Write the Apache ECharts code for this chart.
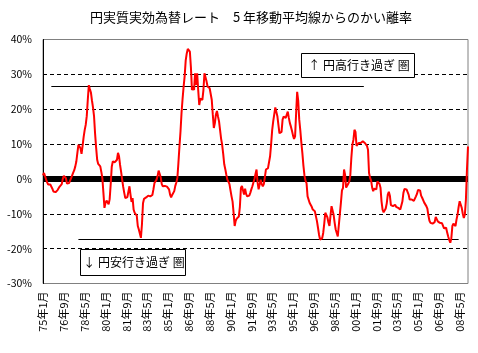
<!DOCTYPE html>
<html>
<head>
<meta charset="utf-8">
<script src="https://cdn.jsdelivr.net/npm/echarts@6/dist/echarts.min.js"></script>
<style>
html, body { margin: 0; padding: 0; background: #fff; }
#chart { width: 478px; height: 353px; }
</style>
</head>
<body>
<div id="chart"></div>
<script>
// 1975年1月からの月次データ（5年移動平均からのかい離率, %）
var startYear = 1975;
var deviation = [
    1.0, 1.7, 1.5, -0.2, -1.0, -1.6, -1.6, -1.6, -1.8, -2.8,
    -3.6, -3.9, -3.8, -3.6, -3.2, -2.8, -2.2, -2.0, -1.5, 0.0,
    0.9, 1.2, 0.2, -1.3, -1.3, -1.2, -1.0, 0.2, 1.0, 1.8,
    2.5, 3.6, 5.0, 7.5, 9.8, 9.5, 8.8, 7.2, 9.5, 12,
    14, 15.5, 18, 22.7, 26.9, 25.8, 24.8, 22.5, 20.5, 18,
    13, 9, 5.5, 4.3, 3.8, 3.6, 2.0, 0.2, -4, -8.3,
    -6.9, -6.2, -6.5, -7.3, -5.8, -1.5, 3.5, 5.0, 5.5, 4.8,
    4.8, 5.5, 7.5, 6.5, 4.0, 2.0, -0.2, -2.3, -4, -5.5,
    -5.4, -5.2, -4.8, -2.1, -4.5, -6.6, -5.5, -8.8, -9.7, -10,
    -10.5, -13.5, -14.5, -15, -16.9, -13, -7, -5.7, -5.6, -5.3,
    -5.0, -4.8, -4.8, -5, -5.3, -4.6, -3, -1.2, -1.0, -0.2,
    0.8, 2.4, 2.0, 0.5, -1.5, -2.1, -2.1, -2.0, -2.1, -2.2,
    -2.5, -3, -4.5, -5.3, -4.6, -4.2, -3.5, -2, -1.0, 0.3,
    4.6, 9.3, 13.6, 19, 23, 26.5, 29.5, 34, 36, 37.3,
    37.7, 36.5, 32, 25.5, 26.3, 25.5, 30.3, 27, 30.3, 25.5,
    21.2, 23, 23.4, 22.7, 25.5, 30.3, 30, 28, 26.5, 26.5,
    26, 25.5, 22.7, 18.5, 14.6, 16, 18.5, 19.5, 17.9, 16.5,
    14, 11.5, 9.8, 7.2, 4.2, 2.8, 1.2, -0.2, -0.8, -1.5,
    -3.3, -5, -6.5, -9.8, -13.5, -12, -11.4, -11.1, -10.8, -8,
    -2.6, -2.0, -2.5, -4.5, -2.8, -4.3, -5, -5, -4.8, -4,
    -3, -2.1, -1, 0, 1.4, 2.7, -1, -3, -2.5, -0.2,
    -1.5, -2.1, -1.5, 0.5, 2.7, 3.0, 3.1, 3.1, 6.5, 10,
    14, 16.5, 17, 20.5, 20, 18, 15.5, 13.1, 13.1, 13.5,
    17, 17.9, 18.2, 17.5, 17, 19.3, 17.5, 16, 15, 13.8,
    12.5, 11.5, 12.2, 18.8, 25, 22.5, 17, 14, 10.5, 7.4,
    3.8, 1, -0.5, -1.2, -5, -5.2, -6.9, -7.2, -8, -8.8,
    -9, -9.3, -9.7, -12.1, -14, -16, -17.4, -17.8, -17, -15.5,
    -12.8, -9.7, -9.3, -11, -12.5, -13.5, -10.5, -7.8, -7.5, -10.3,
    -12.6, -14.5, -15.5, -16.5, -16.5, -10, -6.8, -3.3, -2.6, 2.7,
    1.2, -2.5, -2.8, -1.4, -0.7, 1.0, 6, 9.8, 11.2, 14.1,
    13.5, 9.5, 9.5, 10.3, 10.3, 10.3, 10.5, 10.8, 10.3, 10.3,
    9.9, 9.5, 8.4, 1.7, 0.3, -0.5, -2.5, -3.5, -2.8, -2.6,
    -3.0, -0.7, -1.1, -1.4, -2.5, -6.5, -8.8, -9.6, -9.5, -8.5,
    -7, -4.5, -3.7, -4.8, -7.5, -7.8, -7.8, -7.5, -7.4, -8,
    -8.4, -8.3, -8.6, -8.8, -8.5, -6.5, -4, -2.9, -2.6, -3.0,
    -3.3, -4.5, -5.9, -5.6, -5.9, -6.2, -6.3, -6.0, -5, -4.3,
    -3.2, -2.8, -3.3, -4.8, -5.4, -5.6, -6.8, -7.3, -7.8, -8.5,
    -10.5, -12, -12.6, -12.6, -12.8, -12.9, -12.4, -10.9, -11.2, -12.2,
    -12.6, -12.6, -12.6, -12.7, -13.0, -14.2, -14.2, -14.0, -15.4, -16.5,
    -17.5, -18.3, -17, -13.5, -12.8, -13.2, -13.5, -11.6, -10.2, -8,
    -6.4, -6.9, -8.3, -10, -11.2, -10.2, -5.9, 2.7, 9.3
];

// 年月ラベル（例: 75年1月）
var categories = [];
for (var i = 0; i < deviation.length; i++) {
    var yy = (startYear + Math.floor(i / 12)) % 100;
    categories.push((yy < 10 ? '0' : '') + yy + '年' + (i % 12 + 1) + '月');
}

// 行き過ぎ圏の目安線
var highLevel = 26.7;
var lowLevel = -17.3;
var highSpan = [categories[8], categories[308]];
var lowSpan = [categories[34], categories[399]];

var font = '"Noto Sans CJK JP", "Noto Sans", sans-serif';

var option = {
    animation: false,
    backgroundColor: '#fff',
    textStyle: { fontFamily: font },
    title: {
        text: '円実質実効為替レート　5 年移動平均線からのかい離率',
        left: 246,
        top: 6,
        textAlign: 'center',
        textStyle: { fontSize: 13, fontWeight: 'normal', color: '#000', fontFamily: font }
    },
    grid: {
        left: 43,
        right: 10,
        top: 39.5,
        bottom: 69.5,
        show: true,
        borderColor: '#808080',
        borderWidth: 1
    },
    xAxis: {
        type: 'category',
        data: categories,
        boundaryGap: false,
        axisLine: { show: false },
        axisTick: { show: false },
        axisLabel: {
            interval: 19,
            rotate: 90,
            margin: 8,
            fontSize: 11,
            color: '#000',
            fontFamily: font
        },
        splitLine: { show: false }
    },
    yAxis: {
        type: 'value',
        min: -30,
        max: 40,
        interval: 10,
        axisLine: { show: true, lineStyle: { color: '#000', width: 1 } },
        axisTick: { show: false },
        axisLabel: {
            formatter: '{value}%',
            margin: 11,
            fontSize: 10.5,
            color: '#000',
            fontFamily: font
        },
        splitLine: {
            show: true,
            showMinLine: false,
            showMaxLine: false,
            lineStyle: { color: '#000', type: [4, 3], width: 1 }
        }
    },
    series: [{
        // 0%の太線（赤線の下に描く）
        type: 'line',
        data: [],
        z: 1,
        markLine: {
            silent: true,
            symbol: ['none', 'none'],
            label: { show: false },
            lineStyle: { color: '#000', width: 6, type: 'solid' },
            data: [{ yAxis: 0 }]
        }
    }, {
        type: 'line',
        data: deviation,
        showSymbol: false,
        symbol: 'none',
        z: 5,
        lineStyle: { color: '#ff0000', width: 2 },
        markLine: {
            silent: true,
            symbol: ['none', 'none'],
            label: { show: false },
            lineStyle: { color: '#000', width: 1, type: 'solid' },
            data: [
                [{ coord: [highSpan[0], highLevel] }, { coord: [highSpan[1], highLevel] }],
                [{ coord: [lowSpan[0], lowLevel] }, { coord: [lowSpan[1], lowLevel] }]
            ]
        }
    }],
    graphic: [
        {
            type: 'rect',
            shape: { x: 301.5, y: 53.5, width: 113, height: 24 },
            style: { fill: '#fff', stroke: '#000', lineWidth: 1 },
            z: 10
        },
        {
            type: 'text',
            x: 359, y: 65.5,
            style: { text: '↑ 円高行き過ぎ 圏', fill: '#000', font: '12px ' + font, textAlign: 'center', textVerticalAlign: 'middle' },
            z: 11
        },
        {
            type: 'rect',
            shape: { x: 80.5, y: 249.5, width: 105, height: 26 },
            style: { fill: '#fff', stroke: '#000', lineWidth: 1 },
            z: 10
        },
        {
            type: 'text',
            x: 134, y: 262.5,
            style: { text: '↓ 円安行き過ぎ 圏', fill: '#000', font: '12px ' + font, textAlign: 'center', textVerticalAlign: 'middle' },
            z: 11
        }
    ]
};

var myChart = echarts.init(document.getElementById('chart'));
myChart.setOption(option);
</script>
</body>
</html>
